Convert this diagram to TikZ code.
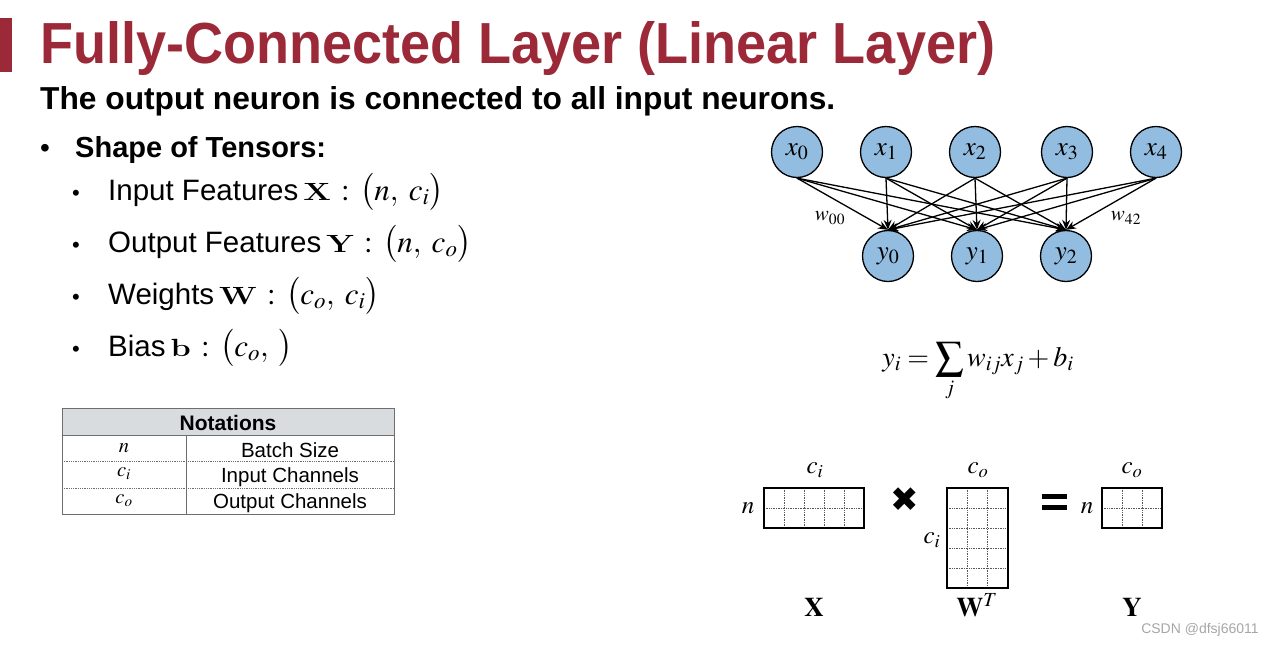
\documentclass[tikz,border=0pt]{standalone}
\usepackage{amsmath}
\usepackage{mathptmx}
\usepackage[no-math]{fontspec}
\setmainfont{Liberation Sans}
\newfontfamily\djv{DejaVu Sans}
\usetikzlibrary{arrows.meta}
\definecolor{titlered}{RGB}{155,41,56}
\definecolor{nblue}{RGB}{146,189,224}
\definecolor{hdrgray}{RGB}{217,220,223}
\definecolor{tblline}{RGB}{110,110,110}
\newcommand\myB[1]{\text{\scalebox{1.3}[1]{\fontsize{23.5}{23.5}\usefont{OT1}{cmr}{bx}{n}#1}}}
\newcommand\mymath[1]{\hspace{5pt}{\fontsize{31}{31}\selectfont$#1$}}
\begin{document}
\begin{tikzpicture}[x=1pt,y=-1pt,
  neuron/.style={circle, draw, fill=nblue, minimum size=51pt, inner sep=0pt, line width=1.3pt, font=\fontsize{27}{27}\selectfont},
  conn/.style={line width=1.3pt, -{Stealth[length=10pt,width=8pt]}},
  txt/.style={anchor=base west, inner sep=0pt},
  item/.style={txt, font=\fontsize{29.5}{29.5}\selectfont},
  tbl/.style={inner sep=0pt, font=\fontsize{20.5}{20.5}\selectfont},
  mlab/.style={inner sep=0pt, font=\fontsize{25}{25}\selectfont},
  blab/.style={inner sep=0pt, font=\fontsize{27}{27}\selectfont},
  mat/.style={draw, line width=1.3pt, inner sep=0pt},
  grid/.style={densely dotted, line width=0.7pt, gray!70!black}]
\useasboundingbox (0,0) rectangle (1278,646);
% title
\fill[titlered] (0,18) rectangle (12,72);
\node[txt, text=titlered] (title) at (40,63) {\resizebox{955pt}{42pt}{\fontsize{56}{56}\selectfont\bfseries Fully-Connected Layer (Linear Layer)}};
\node[txt] (subtitle) at (40,109) {\resizebox{795pt}{!}{\fontsize{30}{30}\selectfont\bfseries The output neuron is connected to all input neurons.}};
% bullets
\node[txt, font=\fontsize{28}{28}\selectfont] (b0) at (40,157) {\textbullet};
\node[txt, font=\fontsize{29}{29}\selectfont\bfseries] (shape) at (75,157) {Shape of Tensors:};
\node[txt, font=\fontsize{22}{22}\selectfont] (b1) at (72,200) {\textbullet};
\node[item] (in) at (108,200) {Input Features\mymath{\myB{X}\,:\,\bigl(n,\;c_i\bigr)}};
\node[txt, font=\fontsize{22}{22}\selectfont] (b2) at (72,252) {\textbullet};
\node[item] (out) at (108,252) {Output Features\mymath{\myB{Y}\,:\,\bigl(n,\;c_o\bigr)}};
\node[txt, font=\fontsize{22}{22}\selectfont] (b3) at (72,304) {\textbullet};
\node[item] (w) at (108,304) {Weights\mymath{\myB{W}\,:\,\bigl(c_o,\;c_i\bigr)}};
\node[txt, font=\fontsize{22}{22}\selectfont] (b4) at (72,356) {\textbullet};
\node[item] (b) at (108,356) {Bias\mymath{\myB{b}\,:\,\bigl(c_o,\;\bigr)}};
% table
\fill[hdrgray] (62,408) rectangle (394,435);
\draw[tblline, line width=0.8pt] (62,408) rectangle (394,514);
\draw[tblline, line width=0.8pt] (62,435) -- (394,435);
\draw[tblline, line width=0.8pt] (186,435) -- (186,514);
\draw[tblline, densely dotted, line width=0.8pt] (62,461) -- (394,461);
\draw[tblline, densely dotted, line width=0.8pt] (62,488) -- (394,488);
\node[tbl, font=\fontsize{21}{21}\selectfont\bfseries] (th) at (228,423) {Notations};
\node[tbl] (t1a) at (124,448) {$n$};
\node[tbl] (t1b) at (290,450) {Batch Size};
\node[tbl] (t2a) at (124,474) {$c_i$};
\node[tbl] (t2b) at (290,477) {Input Channels};
\node[tbl] (t3a) at (124,501) {$c_o$};
\node[tbl] (t3b) at (290,503) {Output Channels};
% network
\node[neuron] (x0) at (797,152) {$x_0$};
\node[neuron] (x1) at (886,152) {$x_1$};
\node[neuron] (x2) at (975,152) {$x_2$};
\node[neuron] (x3) at (1067,152) {$x_3$};
\node[neuron] (x4) at (1156,152) {$x_4$};
\node[neuron] (y0) at (888,256) {$y_0$};
\node[neuron] (y1) at (977,256) {$y_1$};
\node[neuron] (y2) at (1066,256) {$y_2$};
\foreach \i in {0,...,4}{
  \foreach \j in {0,1,2}{
    \draw[conn] (x\i.south) -- (y\j.north);
  }
}
\node[inner sep=0pt, font=\fontsize{21}{21}\selectfont] (w00) at (830,218) {$w_{00}$};
\node[inner sep=0pt, font=\fontsize{21}{21}\selectfont] (w42) at (1126,218) {$w_{42}$};
% equation
\node[inner sep=0pt, font=\fontsize{28}{28}\selectfont] (eq) at (978,372) {$\displaystyle y_i=\sum_j w_{ij}x_j+b_i$};
% matrices
\draw[grid] (784,488) -- (784,528) (804,488) -- (804,528) (824,488) -- (824,528) (844,488) -- (844,528) (764,508) -- (864,508);
\node[mat, minimum width=100pt, minimum height=40pt] (X) at (814,508) {};
\draw[grid] (967.3,488) -- (967.3,588) (987.7,488) -- (987.7,588) (947,508) -- (1008,508) (947,528) -- (1008,528) (947,548) -- (1008,548) (947,568) -- (1008,568);
\node[mat, minimum width=61pt, minimum height=100pt] (WT) at (977.5,538) {};
\draw[grid] (1122,488) -- (1122,528) (1142,488) -- (1142,528) (1102,508) -- (1162,508);
\node[mat, minimum width=60pt, minimum height=40pt] (Y) at (1132,508) {};
\node[mlab] (Xc) at (815,470) {$c_i$};
\node[mlab] (Xn) at (748,508) {$n$};
\node[mlab] (Wc) at (978,470) {$c_o$};
\node[mlab] (Wr) at (932,540) {$c_i$};
\node[mlab] (Yc) at (1132,470) {$c_o$};
\node[mlab] (Yn) at (1087,508) {$n$};
\node[inner sep=0pt, font=\djv\fontsize{34}{34}\selectfont] (times) at (905,500) {✖};
\node[inner sep=0pt, minimum width=25pt, minimum height=5pt, fill=black] (eq1) at (1054.5,496) {};
\node[inner sep=0pt, minimum width=25pt, minimum height=5pt, fill=black] (eq2) at (1054.5,507) {};
\node[blab] (XL) at (814,607) {$\mathbf{X}$};
\node[blab] (WL) at (977,605) {$\mathbf{W}^T$};
\node[blab] (YL) at (1132,607) {$\mathbf{Y}$};
\node[inner sep=0pt, text=gray!70, font=\fontsize{14}{14}\selectfont] (wm) at (1200,630) {CSDN @dfsj66011};
\end{tikzpicture}
\end{document}
